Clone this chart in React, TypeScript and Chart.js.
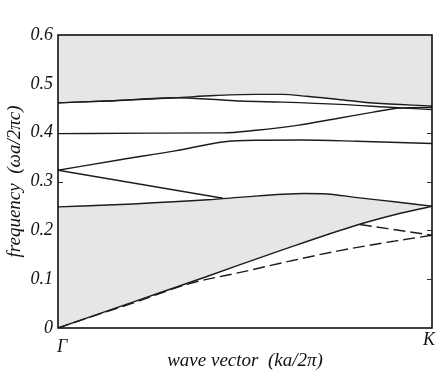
import React, { useEffect, useRef } from "react";
import { Chart, registerables } from "chart.js";

Chart.register(...registerables);

// ---- data (k in units of Γ→K fraction, frequency ωa/2πc) ----
const yTickValues = [0, 0.1, 0.2, 0.3, 0.4, 0.5, 0.6];
const kLabels = ["Γ", "K"];
const xTitle = "wave vector  (ka/2π)";
const yTitle = "frequency  (ωa/2πc)";

const lightK = [0, 0.2, 0.4, 0.6, 0.8, 0.9, 1.0];
const lightF = [0, 0.053, 0.106, 0.16, 0.211, 0.232, 0.2495];

const dashLowK = [0, 0.1, 0.2, 0.35, 0.5, 0.62, 0.75, 0.9, 1.0];
const dashLowF = [0, 0.026, 0.051, 0.0905, 0.116, 0.137, 0.158, 0.178, 0.19];

const band1K = [0, 0.2, 0.4, 0.5, 0.6, 0.66, 0.72, 0.8, 0.9, 1.0];
const band1F = [0.248, 0.254, 0.2625, 0.2685, 0.274, 0.2755, 0.2745, 0.267, 0.2585, 0.2495];

const band2K = [0, 0.441];
const band2F = [0.323, 0.2656];
const band2DashK = [0.807, 1.0];
const band2DashF = [0.212, 0.19];

const band3K = [0, 0.17, 0.313, 0.44, 0.53, 0.65, 0.8, 1.0];
const band3F = [0.323, 0.345, 0.3626, 0.381, 0.3845, 0.385, 0.3825, 0.3777];

const band4K = [0, 0.25, 0.44, 0.53, 0.64, 0.75, 0.843, 0.914, 1.0];
const band4F = [0.398, 0.399, 0.3995, 0.405, 0.415, 0.4295, 0.442, 0.4505, 0.452];

const band5K = [0, 0.15, 0.313, 0.42, 0.53, 0.6, 0.665, 0.75, 0.843, 1.0];
const band5F = [0.461, 0.4655, 0.4715, 0.476, 0.4785, 0.4785, 0.4745, 0.468, 0.4607, 0.4545];

const band6K = [0, 0.15, 0.313, 0.42, 0.487, 0.6, 0.754, 0.9, 1.0];
const band6F = [0.461, 0.4655, 0.4715, 0.468, 0.4648, 0.4625, 0.458, 0.4515, 0.4475];

const LINE = "#1c1c1c";
const GRAY = "#e6e6e6";
const FONT = '"Liberation Serif", "Times New Roman", serif';

const pts = (ks: number[], fs: number[]) => ks.map((k, i) => ({ x: k, y: fs[i] }));

const line = (ks: number[], fs: number[], extra: any = {}) => ({
  data: pts(ks, fs),
  borderColor: LINE,
  borderWidth: 1.4,
  pointRadius: 0,
  fill: false,
  cubicInterpolationMode: "monotone",
  ...extra,
});

export default function App() {
  const ref = useRef<HTMLCanvasElement | null>(null);

  useEffect(() => {
    document.body.style.margin = "0";
    const canvas = ref.current;
    if (!canvas) return;

    const innerTicks = {
      id: "innerTicks",
      beforeDraw(chart: any) {
        const { ctx, chartArea, scales } = chart;
        ctx.save();
        ctx.strokeStyle = "#333";
        ctx.lineWidth = 1;
        yTickValues.slice(1, -1).forEach((v) => {
          const y = Math.round(scales.y.getPixelForValue(v)) + 0.5;
          ctx.beginPath();
          ctx.moveTo(chartArea.left, y);
          ctx.lineTo(chartArea.left + 5, y);
          ctx.moveTo(chartArea.right, y);
          ctx.lineTo(chartArea.right - 5, y);
          ctx.stroke();
        });
        ctx.restore();
      },
      afterDatasetsDraw(chart: any) {
        const { ctx, chartArea } = chart;
        ctx.save();
        ctx.strokeStyle = "#111";
        ctx.lineWidth = 1.6;
        ctx.strokeRect(
          chartArea.left,
          chartArea.top,
          chartArea.right - chartArea.left,
          chartArea.bottom - chartArea.top
        );
        ctx.restore();
      },
      afterDraw(chart: any) {
        const { ctx, scales } = chart;
        ctx.save();
        ctx.fillStyle = "#111";
        ctx.font = `italic 18px ${FONT}`;
        ctx.textAlign = "center";
        ctx.textBaseline = "alphabetic";
        ctx.fillText(kLabels[0], scales.x.getPixelForValue(0) + 4, 352);
        ctx.fillText(kLabels[1], scales.x.getPixelForValue(1) - 3, 345);
        ctx.restore();
      },
    };

    const chart = new Chart(canvas, {
      type: "line",
      data: {
        datasets: [
          line(lightK, lightF) as any,
          line(band1K, band1F, { fill: { target: 0 }, backgroundColor: GRAY }) as any,
          line(dashLowK, dashLowF, { borderDash: [12, 5] }) as any,
          line(band2K, band2F) as any,
          line(band2DashK, band2DashF, { borderDash: [12, 5] }) as any,
          line(band3K, band3F) as any,
          line(band4K, band4F) as any,
          line(band6K, band6F) as any,
          line(band5K, band5F, { fill: "end", backgroundColor: GRAY }) as any,
        ],
      },
      options: {
        animation: false,
        responsive: true,
        maintainAspectRatio: false,
        layout: { padding: { top: 35, right: 4, left: 0, bottom: 0 } },
        plugins: {
          legend: { display: false },
          tooltip: { enabled: false },
          filler: { drawTime: "beforeDatasetsDraw" },
        },
        scales: {
          x: {
            type: "linear",
            min: 0,
            max: 1,
            grid: { display: false },
            border: { display: false },
            ticks: { display: false },
            afterFit: (s: any) => {
              s.height = 51;
            },
            title: {
              display: true,
              text: xTitle,
              color: "#111",
              font: { family: FONT, size: 19, style: "italic" },
              padding: { top: 0, bottom: 7 },
            },
          },
          y: {
            type: "linear",
            min: 0,
            max: 0.6,
            afterBuildTicks: (s: any) => {
              s.ticks = yTickValues.map((v) => ({ value: v }));
            },
            grid: { display: false, drawTicks: false },
            border: { display: false },
            ticks: {
              color: "#111",
              padding: 5,
              font: { family: FONT, size: 18, style: "italic" },
              callback: (v: any) => (Number(v) === 0 ? "0" : Number(v).toFixed(1)),
            },
            afterFit: (s: any) => {
              s.width = 58;
            },
            title: {
              display: true,
              text: yTitle,
              color: "#111",
              font: { family: FONT, size: 19, style: "italic" },
              padding: { top: 4, bottom: 0 },
            },
          },
        },
      } as any,
      plugins: [innerTicks],
    });

    return () => chart.destroy();
  }, []);

  return (
    <div style={{ position: "relative", width: 436, height: 379 }}>
      <canvas ref={ref} />
    </div>
  );
}
